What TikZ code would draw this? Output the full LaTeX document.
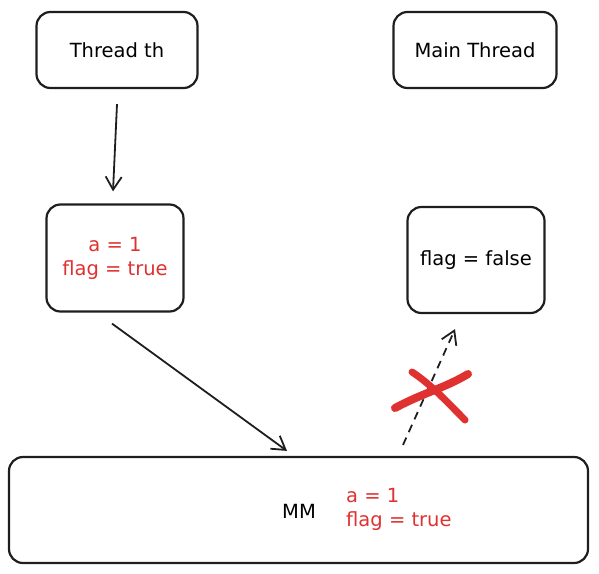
\documentclass[tikz,border=0pt]{standalone}
\usepackage{fontspec}
\setmainfont{DejaVu Sans}
\usepackage{xcolor}
\usepackage{tikz}
\usetikzlibrary{arrows.meta,positioning,calc}
\definecolor{sketchRed}  {RGB}{224, 49,  49}
\definecolor{sketchInk}  {RGB}{30,  30,  30}

\begin{document}
\begin{tikzpicture}[x=1pt,y=-1pt,
    box/.style={draw=sketchInk,line width=2.2pt,rounded corners=14pt,
                font=\fontsize{19.5}{24}\selectfont,align=center,inner sep=0pt},
    link/.style={-{Straight Barb[length=13pt,width=16pt]},sketchInk,line width=1.8pt}]

    \useasboundingbox (0,0) rectangle (599,573);

    % ════════ threads (top row) ════════
    \node[box,minimum width=161pt,minimum height=76pt] (th) at (117,50){Thread th};
    \node[box,minimum width=163pt,minimum height=76pt] (mt) at (475,50){Main Thread};

    % ════════ working copies ════════
    \node[box,minimum width=137pt,minimum height=107pt,text=sketchRed]
      (wt) at (115,258){a = 1\\flag = true};
    \node[box,minimum width=137pt,minimum height=106pt] (wm) at (476,260){flag = false};

    % ════════ main memory ════════
    \node[box,minimum width=579pt,minimum height=106pt] (mm) at (298.5,510){};
    \node[font=\fontsize{19.5}{24}\selectfont] (mmlabel) at (299,511){MM};
    \node[right,font=\fontsize{19.5}{24}\selectfont,text=sketchRed,align=left,inner sep=0pt]
      (mmvals) at (346,509){a = 1\\flag = true};

    % escrita: thread -> copia -> memoria
    \draw[link] ([shift={(0,15)}]th.south) -- ([shift={(-2,-12)}]wt.north);
    \draw[link] ([shift={(-3,11)}]wt.south) -- ([shift={(-11.5,-5)}]mm.north);
    % leitura bloqueada
    \draw[link,dashed,dash pattern=on 8pt off 6pt] ([shift={(104.5,-11)}]mm.north)
      -- ([shift={(-21,15)}]wm.south);

    % cruz vermelha
    \draw[sketchRed,line width=8pt,line cap=round]
      (395,408) .. controls (425,392) and (445,388) .. (468,374);
    \draw[sketchRed,line width=7pt,line cap=round]
      (412,372) .. controls (432,385) and (450,405) .. (465,420);

\end{tikzpicture}
\end{document}
